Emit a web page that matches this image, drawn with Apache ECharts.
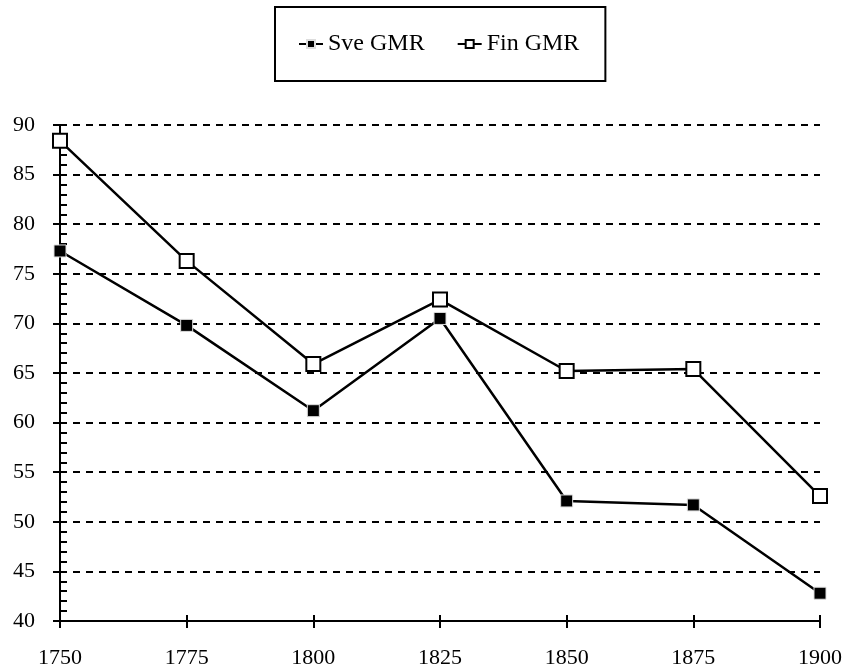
<!DOCTYPE html>
<html lang="en">
<head>
    <meta charset="UTF-8">
    <title>GMR</title>
    <script src="https://cdn.jsdelivr.net/npm/echarts@6/dist/echarts.min.js" type="text/javascript"></script>
    <style>
        html, body { margin: 0; padding: 0; background: #fff; }
    </style>
</head>
<body>
<div id="gmr" style="width: 848px;height:670px;"></div>
</body>

<script type="text/javascript">
    var years = ['1750', '1775', '1800', '1825', '1850', '1875', '1900'];
    var sveGmr = [77.3, 69.8, 61.2, 70.5, 52.1, 51.7, 42.8];
    var finGmr = [88.4, 76.3, 65.9, 72.4, 65.2, 65.4, 52.6];
    var yTicks = [40, 90, 5];

    var font = 'Liberation Serif';
    var chart = echarts.init(document.getElementById('gmr'));

    chart.setOption({
        animation: false,
        legend: {
            top: 7,
            left: 275,
            data: ['Sve GMR', 'Fin GMR'],
            borderColor: '#000',
            borderWidth: 2,
            padding: [25, 26, 25, 23],
            itemGap: 32,
            itemWidth: 24,
            itemHeight: 10,
            textStyle: {fontFamily: font, fontSize: 24, color: '#000'}
        },
        grid: {left: 60, right: 28, top: 125, bottom: 49},
        xAxis: [{
            type: 'category',
            data: years,
            boundaryGap: false,
            axisLine: {lineStyle: {color: '#000', width: 2}},
            axisTick: {length: 7, lineStyle: {color: '#000', width: 2}},
            axisLabel: {fontFamily: font, fontSize: 22, color: '#000', margin: 26}
        }, {
            type: 'category',
            data: years,
            boundaryGap: false,
            position: 'bottom',
            axisLine: {show: false},
            axisTick: {inside: true, length: 6, lineStyle: {color: '#000', width: 2}},
            axisLabel: {show: false}
        }],
        yAxis: [{
            type: 'value',
            min: yTicks[0],
            max: yTicks[1],
            interval: yTicks[2],
            axisLine: {show: true, lineStyle: {color: '#000', width: 2}},
            axisTick: {show: true, length: 7, lineStyle: {color: '#000', width: 2}},
            axisLabel: {fontFamily: font, fontSize: 22, color: '#000', margin: 25, padding: [0, 0, 4, 0]},
            splitLine: {lineStyle: {color: '#000', width: 2, type: [7, 6]}}
        }, {
            type: 'value',
            min: yTicks[0],
            max: yTicks[1],
            interval: yTicks[2],
            position: 'left',
            axisLine: {show: false},
            axisTick: {show: true, inside: true, length: 7, lineStyle: {color: '#000', width: 2}},
            minorTick: {show: true, splitNumber: 5, length: 7, lineStyle: {color: '#000', width: 2}},
            axisLabel: {show: false},
            splitLine: {show: false}
        }],
        series: [{
            name: 'Sve GMR',
            type: 'line',
            data: sveGmr,
            symbol: 'rect',
            symbolSize: 12,
            lineStyle: {color: '#000', width: 2.5},
            itemStyle: {color: '#000', borderColor: '#ddd', borderWidth: 1}
        }, {
            name: 'Fin GMR',
            type: 'line',
            data: finGmr,
            symbol: 'rect',
            symbolSize: 14,
            lineStyle: {color: '#000', width: 2.5},
            itemStyle: {color: '#fff', borderColor: '#000', borderWidth: 2}
        }]
    });
</script>
</html>
